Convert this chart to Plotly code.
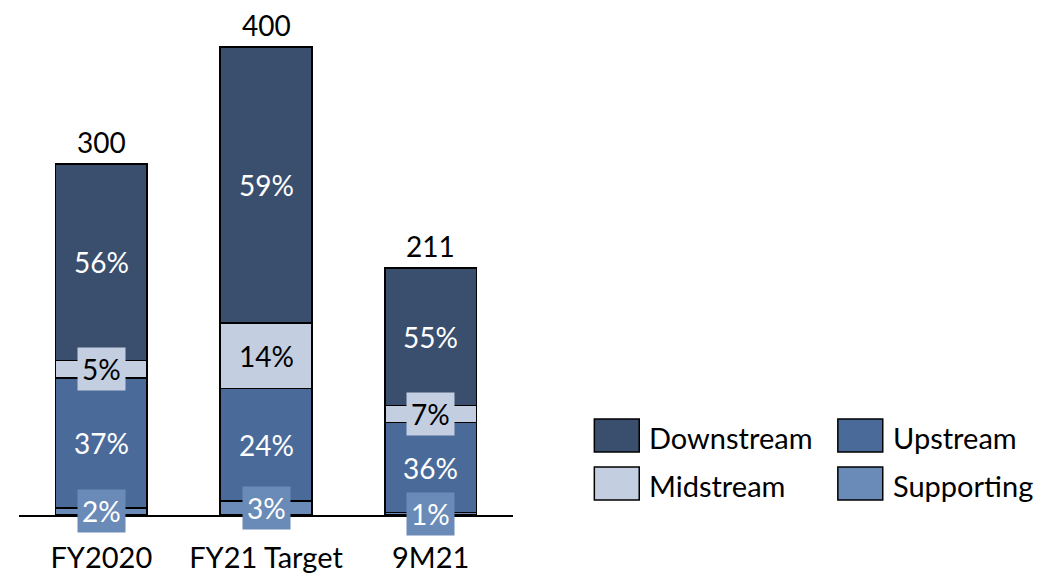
import plotly.graph_objects as go

categories = ["FY2020", "FY21 Target", "9M21"]
totals = [300, 400, 211]
supporting_pct = [2, 3, 1]
upstream_pct = [37, 24, 36]
midstream_pct = [5, 14, 7]
downstream_pct = [56, 59, 55]

series = [
    ("Supporting", supporting_pct, "#6A8AB8", "white"),
    ("Upstream", upstream_pct, "#4A6A9A", "white"),
    ("Midstream", midstream_pct, "#C3CEE0", "black"),
    ("Downstream", downstream_pct, "#3A4E6E", "white"),
]

FONT = "Lato"
W, H = 1046, 573
OFF = 8  # page body margin
ML, MT = 18.5 - OFF, 10 - OFF
AXIS_Y = 515 - OFF
MB = H - AXIS_Y
MR = W - (513.5 - OFF)
PW, PH = W - ML - MR, H - MT - MB

sums = [sum(p) for p in zip(supporting_pct, upstream_pct, midstream_pct, downstream_pct)]

fig = go.Figure()
annotations = []
base = [0.0] * len(categories)
for name, pct, color, txtcolor in series:
    vals = [t * p / s for t, p, s in zip(totals, pct, sums)]
    fig.add_trace(go.Bar(
        x=categories, y=vals, name=name, marker=dict(color=color, line=dict(color="black", width=1.5)),
        width=0.557, showlegend=False, hoverinfo="skip",
    ))
    for i, (c, v, p) in enumerate(zip(categories, vals, pct)):
        annotations.append(dict(
            x=c, y=base[i] + v / 2, text=f"{p}%", showarrow=False,
            font=dict(family=FONT, size=28, color=txtcolor),
            bgcolor=color, borderpad=4,
        ))
        base[i] += v

for c, t in zip(categories, totals):
    annotations.append(dict(
        x=c, y=t, text=str(t), showarrow=False, yanchor="bottom", yshift=3,
        font=dict(family=FONT, size=28, color="black"),
    ))

# legend drawn by hand (large swatches, 2x2 layout), positions in screen pixels
def px_x(px):
    return (px - OFF - ML) / PW

def px_y(py):
    return (H - MB - (py - OFF)) / PH

shapes = []
legend_items = [
    ("Downstream", "#3A4E6E", 595, 436),
    ("Upstream", "#4A6A9A", 839, 436),
    ("Midstream", "#C3CEE0", 595, 484),
    ("Supporting", "#6A8AB8", 839, 484),
]
for name, color, lx, ly in legend_items:
    shapes.append(dict(
        type="rect", xref="paper", yref="paper",
        x0=px_x(lx), x1=px_x(lx + 45), y0=px_y(ly - 17), y1=px_y(ly + 16),
        fillcolor=color, line=dict(color="black", width=1.5),
    ))
    annotations.append(dict(
        xref="paper", yref="paper", x=px_x(lx + 53), y=px_y(ly + 1), text=name,
        showarrow=False, xanchor="left", yanchor="middle",
        font=dict(family=FONT, size=29, color="black"),
    ))

fig.update_layout(
    barmode="stack", width=W, height=H,
    margin=dict(l=ML, r=MR, t=MT, b=MB, autoexpand=False),
    paper_bgcolor="white", plot_bgcolor="white",
    xaxis=dict(showline=True, linecolor="black", linewidth=1.5,
               ticks="outside", ticklen=16, tickcolor="rgba(0,0,0,0)",
               tickfont=dict(family=FONT, size=29, color="black"), showgrid=False,
               range=[-0.5, 2.5], automargin=False),
    yaxis=dict(range=[0, PH / 1.17], visible=False, showgrid=False, zeroline=False),
    annotations=annotations, shapes=shapes,
)

fig.write_html("out.html")
